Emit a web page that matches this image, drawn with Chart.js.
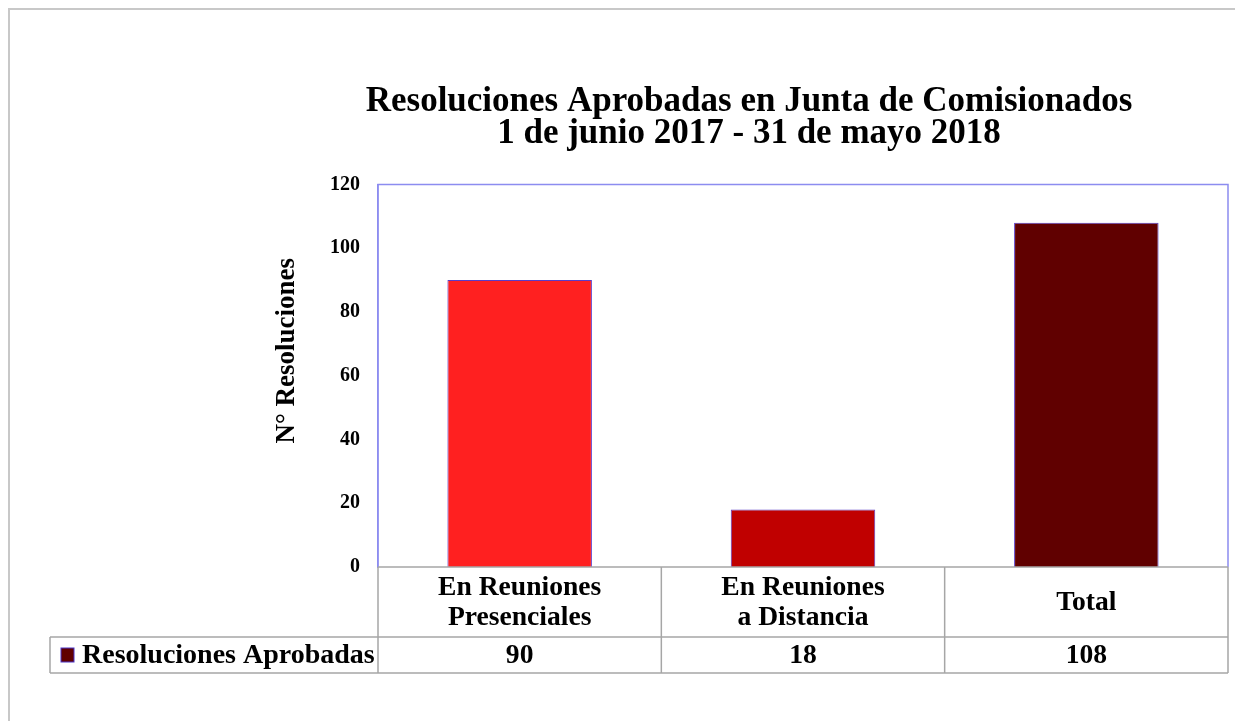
<!DOCTYPE html>
<html>
<head>
<meta charset="utf-8">
<script src="https://cdn.jsdelivr.net/npm/chart.js@4"></script>
<style>
  html, body { margin: 0; padding: 0; background: #fff; }
  #wrap { position: relative; width: 1235px; height: 721px; }
</style>
</head>
<body>
<div id="wrap"><canvas id="resolucionesChart" width="1235" height="721"></canvas></div>
<script>
// Chart data
const titleLines = ["Resoluciones Aprobadas en Junta de Comisionados", "1 de junio 2017 - 31 de mayo 2018"];
const categories = [["En Reuniones", "Presenciales"], ["En Reuniones", "a Distancia"], ["Total"]];
const seriesName = "Resoluciones Aprobadas";
const resoluciones = [90, 18, 108];
const barColors = ["#ff2020", "#c00000", "#600000"];
const yTitle = "N° Resoluciones";
const yMin = 0;
const yMax = 120;
const yStep = 20;

const serif = "'Liberation Serif', 'Times New Roman', serif";
const tableLine = "#a6a6a6";
const plotBorder = "#8c8cf0";

// Frame, plot border, y title and the data table below the bars
const dataTablePlugin = {
  id: "dataTable",
  beforeDraw(chart) {
    const ctx = chart.ctx;
    ctx.save();
    ctx.fillStyle = "#fff";
    ctx.fillRect(0, 0, chart.width, chart.height);
    // outer frame (top and left edge)
    ctx.strokeStyle = "#c8c8c8";
    ctx.lineWidth = 2;
    ctx.beginPath();
    ctx.moveTo(9, chart.height);
    ctx.lineTo(9, 9);
    ctx.lineTo(chart.width, 9);
    ctx.stroke();
    ctx.restore();
  },
  afterDraw(chart) {
    const ctx = chart.ctx;
    const area = chart.chartArea;
    const xScale = chart.scales.x;
    const yScale = chart.scales.y;
    const n = categories.length;
    const rowTop = area.bottom;
    const rowMid = area.bottom + 70;
    const rowBottom = area.bottom + 106;
    const tableLeft = 50;

    ctx.save();
    // plot area border (top, right)
    ctx.strokeStyle = plotBorder;
    ctx.lineWidth = 1.5;
    ctx.beginPath();
    ctx.moveTo(area.left, area.bottom);
    ctx.lineTo(area.left, area.top);
    ctx.lineTo(area.right, area.top);
    ctx.lineTo(area.right, area.bottom);
    ctx.stroke();

    // y axis title, sits a bit above the middle of the axis
    ctx.save();
    ctx.translate(yScale.left + 17, area.top + (area.bottom - area.top) * 0.435);
    ctx.rotate(-Math.PI / 2);
    ctx.fillStyle = "#000";
    ctx.font = "bold 27px " + serif;
    ctx.textAlign = "center";
    ctx.textBaseline = "middle";
    ctx.fillText(yTitle, 0, 0);
    ctx.restore();

    // table grid
    ctx.strokeStyle = tableLine;
    ctx.lineWidth = 1.5;
    ctx.beginPath();
    ctx.moveTo(area.left, rowTop);
    ctx.lineTo(area.right, rowTop);
    ctx.moveTo(tableLeft, rowMid);
    ctx.lineTo(area.right, rowMid);
    ctx.moveTo(tableLeft, rowBottom);
    ctx.lineTo(area.right, rowBottom);
    ctx.moveTo(tableLeft, rowMid);
    ctx.lineTo(tableLeft, rowBottom);
    const step = (area.right - area.left) / n;
    for (let i = 0; i <= n; i++) {
      const x = area.left + step * i;
      ctx.moveTo(x, rowTop);
      ctx.lineTo(x, rowBottom);
    }
    ctx.stroke();

    // category labels and values
    ctx.fillStyle = "#000";
    ctx.font = "bold 27.6px " + serif;
    ctx.textAlign = "center";
    ctx.textBaseline = "middle";
    const lineH = 30;
    categories.forEach((lines, i) => {
      const x = xScale.getPixelForValue(i);
      const y0 = (rowTop + rowMid) / 2 + 1 - (lines.length - 1) * lineH / 2;
      lines.forEach((t, j) => ctx.fillText(t, x, y0 + j * lineH));
      ctx.fillText(String(resoluciones[i]), x, (rowMid + rowBottom) / 2 + 1);
    });

    // legend key + series name
    const midY = (rowMid + rowBottom) / 2;
    ctx.fillStyle = barColors[2];
    ctx.fillRect(61, midY - 7, 13, 14);
    ctx.strokeStyle = "#4a35c8";
    ctx.lineWidth = 1;
    ctx.strokeRect(61, midY - 7, 13, 14);
    ctx.fillStyle = "#000";
    ctx.textAlign = "left";
    ctx.font = "bold 28px " + serif;
    ctx.fillText(seriesName, 82, midY + 1);
    ctx.restore();
  }
};

new Chart(document.getElementById("resolucionesChart"), {
  type: "bar",
  data: {
    labels: categories,
    datasets: [
      {
        label: seriesName,
        data: resoluciones,
        backgroundColor: barColors,
        borderColor: "#5a3cc8",
        borderWidth: 1,
        categoryPercentage: 1,
        barPercentage: 0.51,
      },
    ],
  },
  options: {
    responsive: false,
    animation: false,
    layout: {
      padding: { left: 270, right: 7, top: 0, bottom: 48 },
    },
    plugins: {
      legend: { display: false },
      tooltip: { enabled: false },
      title: {
        display: true,
        text: titleLines,
        color: "#000",
        font: { family: serif, size: 35, weight: "bold", lineHeight: 0.92 },
        padding: { top: 86, bottom: 34 },
      },
    },
    scales: {
      x: {
        grid: { display: false },
        border: { display: false },
        ticks: { display: false },
        afterFit(scale) {
          scale.height = 106;
        },
      },
      y: {
        min: yMin,
        max: yMax,
        grid: { display: false, drawTicks: false },
        border: { display: true, color: plotBorder, width: 1.5 },
        ticks: {
          stepSize: yStep,
          padding: 18,
          color: "#000",
          font: { family: serif, size: 20, weight: "bold" },
        },
        afterFit(scale) {
          scale.width = 108;
        },
      },
    },
  },
  plugins: [dataTablePlugin],
});
</script>
</body>
</html>
